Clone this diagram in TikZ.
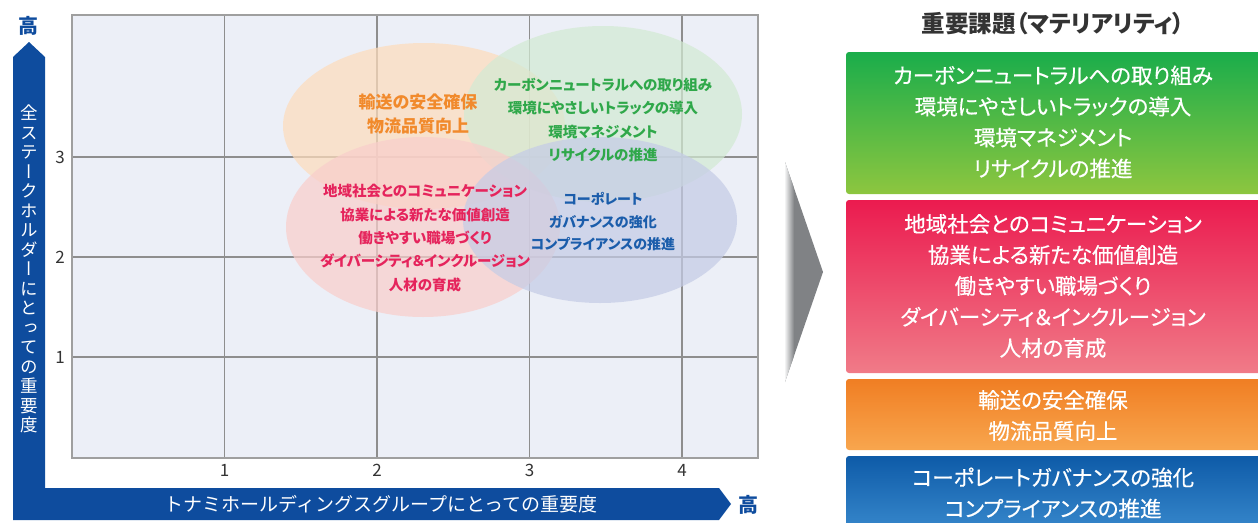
\documentclass[tikz,border=0pt]{standalone}
\usepackage{fontspec}
\newfontfamily\jp{Noto Sans CJK JP}[RawFeature={+palt}]
\newfontfamily\jpm{Noto Sans CJK JP}[RawFeature={+palt}, FakeBold=0.5]
\newfontfamily\jpfw{Noto Sans CJK JP}
\newfontfamily\jpv{Noto Sans CJK JP}[RawFeature={+vert}]
\definecolor{axisblue}{HTML}{0E4C9E}
\definecolor{plotbg}{HTML}{ECEFF7}
\definecolor{gridgray}{HTML}{8E8E8E}
\definecolor{ellO}{HTML}{FDDCBC}
\definecolor{ellG}{HTML}{D3EAD3}
\definecolor{ellR}{HTML}{F9CECB}
\definecolor{ellB}{HTML}{C5CCE6}
\definecolor{txtO}{HTML}{F18A2C}
\definecolor{txtG}{HTML}{2FA84A}
\definecolor{txtR}{HTML}{E5245C}
\definecolor{txtB}{HTML}{1B5DAB}
\definecolor{chev}{HTML}{808285}
\definecolor{darktxt}{HTML}{333333}
\tikzset{
  gridline/.style={draw=gridgray, line width=1.5pt},
  ell/.style={fill opacity=0.72},
  elltext/.style={align=center, font={\jp\bfseries\fontsize{14.5}{23.3}\selectfont}, inner sep=0pt},
  boxtext/.style={align=center, text=white, font={\jpm\fontsize{21.5}{31}\selectfont}, inner sep=0pt},
  tick/.style={text=darktxt, font={\jp\fontsize{17}{20}\selectfont}, inner sep=0pt},
  matbox/.style={rounded corners=3pt},
}
\begin{document}
\begin{tikzpicture}[x=1pt,y=-1pt]
\useasboundingbox (0,0) rectangle (1258,522);
% plot area
\fill[plotbg] (72,15) rectangle (758,458);
\foreach \x in {224.5,377,529.5,682} \draw[gridline] (\x,15) -- (\x,458);
\foreach \y in {157,257,357} \draw[gridline] (72,\y) -- (758,\y);
\draw[draw=gridgray!85, line width=2pt] (72,15) rectangle (758,458);
% ellipses
\fill[ellO, ell] (424,126) ellipse [x radius=141pt, y radius=83pt];
\fill[ellG, ell] (603,114) ellipse [x radius=139pt, y radius=88pt];
\fill[ellR, ell] (423,227) ellipse [x radius=137pt, y radius=90pt];
\fill[ellB, ell] (600,220) ellipse [x radius=137pt, y radius=83pt];
% ellipse texts
\node[elltext, text=txtO, font={\jp\bfseries\fontsize{17}{24}\selectfont}] (tO) at (418,114) {輸送の安全確保\\物流品質向上};
\node[elltext, text=txtG] (tG) at (603,120) {カーボンニュートラルへの取り組み\\環境にやさしいトラックの導入\\環境マネジメント\\リサイクルの推進};
\node[elltext, text=txtR] (tR) at (425,238) {地域社会とのコミュニケーション\\協業による新たな価値創造\\働きやすい職場づくり\\ダイバーシティ＆インクルージョン\\人材の育成};
\node[elltext, text=txtB, font={\jp\bfseries\fontsize{14}{22.5}\selectfont}] (tB) at (603,222) {コーポレート\\ガバナンスの強化\\コンプライアンスの推進};
% tick labels
\node[tick] (x1) at (224.5,470) {1};
\node[tick] (x2) at (377,470) {2};
\node[tick] (x3) at (529.5,470) {3};
\node[tick] (x4) at (682,470) {4};
\node[tick] (y3) at (60,157) {3};
\node[tick] (y2) at (60,257) {2};
\node[tick] (y1) at (60,357) {1};
% axis band
\fill[axisblue] (13,520) -- (13,57) -- (29,42) -- (45,57) -- (45,488) -- (719,488) -- (731,504) -- (719,520) -- cycle;
\node[text=axisblue, font={\jp\bfseries\fontsize{20}{22}\selectfont}, inner sep=0pt] (hiY) at (29,26) {高};
\node[text=axisblue, font={\jp\bfseries\fontsize{20}{22}\selectfont}, inner sep=0pt] (hiX) at (748,505) {高};
\node[text=white, align=center, inner sep=0pt, font={\jpv\fontsize{17.5}{19.5}\selectfont}] (ylab) at (29,269) {全\\ス\\テ\\ー\\ク\\ホ\\ル\\ダ\\ー\\に\\と\\っ\\て\\の\\重\\要\\度};
\node[text=white, inner sep=0pt, font={\jpfw\fontsize{19}{22}\selectfont}] (xlab) at (381,504) {トナミホールディングスグループにとっての重要度};
% chevron
\fill[chev] (785,162) -- (823,272) -- (785,382) -- cycle;
\begin{scope}
\clip (785,162) -- (823,272) -- (785,382) -- cycle;
\shade[left color=white, right color=chev] (784,160) rectangle (794,385);
\end{scope}
% right panel
\node[text=darktxt, font={\jp\bfseries\fontsize{23.5}{26}\selectfont}, inner sep=0pt] (title) at (1053,24) {重要課題（マテリアリティ）};
\shade[matbox, top color={rgb,255:red,26;green,173;blue,75}, bottom color={rgb,255:red,141;green,198;blue,63}] (846,52) rectangle (1264,194);
\node[boxtext] (bG) at (1053,122) {カーボンニュートラルへの取り組み\\環境にやさしいトラックの導入\\環境マネジメント\\リサイクルの推進};
\shade[matbox, top color={rgb,255:red,235;green,27;blue,79}, bottom color={rgb,255:red,240;green,123;blue,136}] (846,200) rectangle (1264,373);
\node[boxtext] (bR) at (1053,286) {地域社会とのコミュニケーション\\協業による新たな価値創造\\働きやすい職場づくり\\ダイバーシティ＆インクルージョン\\人材の育成};
\shade[matbox, top color={rgb,255:red,240;green,126;blue,35}, bottom color={rgb,255:red,248;green,166;blue,78}] (846,379) rectangle (1264,450);
\node[boxtext] (bO) at (1053,415.5) {輸送の安全確保\\物流品質向上};
\shade[matbox, top color={rgb,255:red,14;green,91;blue,168}, bottom color={rgb,255:red,60;green,141;blue,208}] (846,456) rectangle (1264,540);
\node[boxtext] (bB) at (1053,493) {コーポレートガバナンスの強化\\コンプライアンスの推進};
\end{tikzpicture}
\end{document}
